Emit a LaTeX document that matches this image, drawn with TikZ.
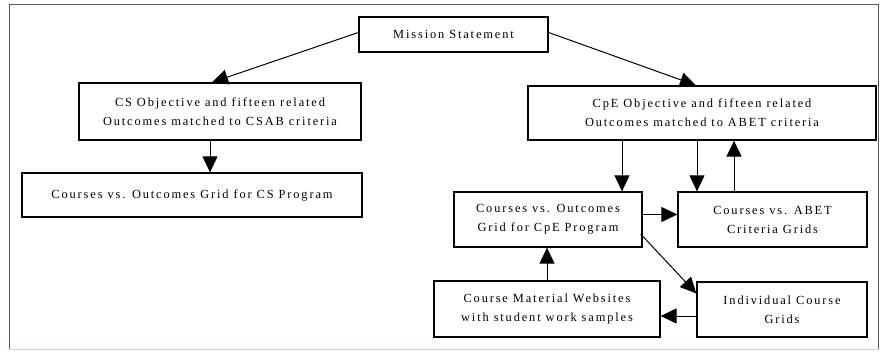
\documentclass[tikz,border=0pt]{standalone}
\usepackage{fontspec}
\setmainfont{Liberation Serif}[LetterSpace=15]
\usetikzlibrary{arrows.meta,calc}
\begin{document}
\begin{tikzpicture}[x=1pt,y=-1pt,
  box/.style={draw=black,line width=1.3pt,fill=white,align=center,inner sep=0pt,
    font=\fontsize{12.4}{19}\selectfont},
  arr/.style={line width=1pt,-{Triangle[length=16pt,width=15pt]}}]
\useasboundingbox (0,0) rectangle (882,352);
\fill[white] (0,0) rectangle (882,352);
\draw[gray!70!black,line width=1pt] (9,349) -- (9,5) -- (878.5,5) -- (878.5,349);
\draw[green!40!gray!40,line width=1pt] (9,349) -- (878.5,349);
\node[box,minimum width=189pt,minimum height=35pt] (mission) at (453.5,34.5) {Mission Statement};
\node[box,minimum width=282pt,minimum height=57pt] (csobj) at (220,111.5) {CS Objective and fifteen related\\Outcomes matched to CSAB criteria};
\node[box,minimum width=348pt,minimum height=54pt] (cpeobj) at (702,113) {CpE Objective and fifteen related\\Outcomes matched to ABET criteria};
\node[box,minimum width=340pt,minimum height=44pt] (csgrid) at (192,195) {Courses vs. Outcomes Grid for CS Program};
\node[box,minimum width=188pt,minimum height=55pt] (cpegrid) at (548,219.5) {Courses vs. Outcomes\\Grid for CpE Program};
\node[box,minimum width=189pt,minimum height=55pt] (abet) at (772.5,219.5) {Courses vs. ABET\\Criteria Grids};
\node[box,minimum width=226pt,minimum height=56pt] (material) at (547,309) {Course Material Websites\\with student work samples};
\node[box,minimum width=170pt,minimum height=55pt] (indiv) at (782,309.5) {Individual Course\\Grids};
\draw[arr] ([yshift=2pt]mission.west) -- ([xshift=-8pt]csobj.north);
\draw[arr] ([yshift=2pt]mission.east) -- ([xshift=-6pt]cpeobj.north);
\draw[arr] ([xshift=-10pt]csobj.south) -- ([xshift=-10pt]csobj.south |- csgrid.north);
\draw[arr] ([xshift=-80pt]cpeobj.south) -- ([xshift=-80pt]cpeobj.south |- cpegrid.north);
\draw[arr] ([xshift=-5pt]cpeobj.south) -- ([xshift=-5pt]cpeobj.south |- abet.north);
\draw[arr] ([xshift=-38.5pt]abet.north) -- ([xshift=-38.5pt]abet.north |- cpeobj.south);
\draw[arr] ([yshift=5pt]cpegrid.east) -- ([yshift=5pt]cpegrid.east -| abet.west);
\draw[arr] ([yshift=-14.5pt,xshift=-2pt]cpegrid.east) -- ([yshift=16pt]indiv.west);
\draw[arr] (material.north) -- (material.north |- cpegrid.south);
\draw[arr] ([yshift=-6.5pt]indiv.west) -- ([yshift=-6.5pt]indiv.west -| material.east);
\end{tikzpicture}
\end{document}
